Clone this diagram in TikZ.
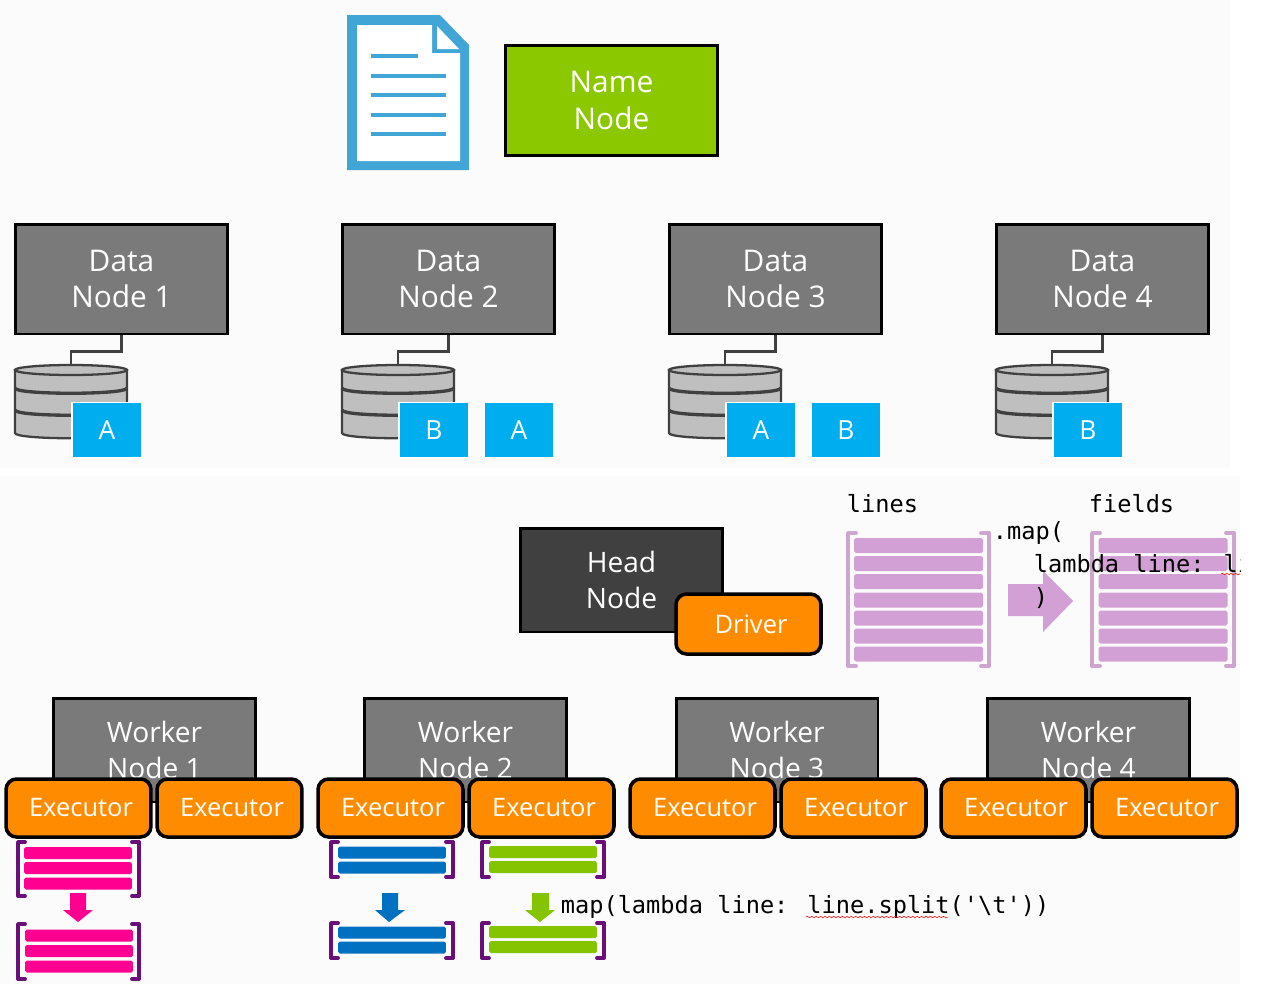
\documentclass[tikz,border=0pt]{standalone}
\usepackage{fontspec}
\setmainfont{Open Sans}
\newfontfamily\codefont{DejaVu Sans Mono}
\usepackage{xcolor}
\definecolor{sppanel}{RGB}{251,251,251}
\definecolor{spgreen}{RGB}{140,200,0}
\definecolor{spgray}{RGB}{122,122,122}
\definecolor{spdark}{RGB}{64,64,64}
\definecolor{sporange}{RGB}{255,140,0}
\definecolor{spcyan}{RGB}{0,174,239}
\definecolor{spdoc}{RGB}{65,165,213}
\definecolor{spdisk}{RGB}{191,191,191}
\definecolor{splilac}{RGB}{210,160,212}
\definecolor{spedge}{RGB}{205,165,207}
\definecolor{sppink}{RGB}{255,0,144}
\definecolor{spblue}{RGB}{0,112,192}
\definecolor{splime}{RGB}{133,196,0}
\definecolor{sppurple}{RGB}{106,15,122}
\usetikzlibrary{decorations.pathmorphing}

\begin{document}
\begin{tikzpicture}[
  x=0.02cm, y=-0.02cm,
  nbox/.style={rectangle, draw=black, line width=1.7pt, fill=#1, text=white, align=center,
               minimum width=4.24cm, minimum height=2.2cm,
               font=\fontsize{17}{21}\selectfont},
  wbox/.style={rectangle, draw=black, line width=1.7pt, fill=#1, text=white, align=center,
               minimum width=4.04cm, minimum height=2.08cm,
               font=\fontsize{16}{20}\selectfont},
  xbox/.style={rectangle, rounded corners=6pt, draw=black, line width=2pt, fill=sporange,
               text=white, minimum width=2.9cm, minimum height=1.16cm,
               execute at begin node={\hspace*{0.1cm}},
               font=\fontsize{14.5}{18}\selectfont},
  pbox/.style={rectangle, draw=white, line width=0.8pt, fill=spcyan, text=white,
               minimum width=1.4cm, minimum height=1.1cm, font=\fontsize{15}{18}\selectfont},
  lbar/.style={rectangle, rounded corners=1pt, fill=splilac, inner sep=0pt,
               minimum width=2.58cm, minimum height=0.3cm},
  tbar/.style={rectangle, rounded corners=1pt, fill=#1, inner sep=0pt,
               minimum width=2.16cm, minimum height=0.24cm},
  brk/.style={draw=#1, line width=2.2pt, line cap=round, line join=round},
  code/.style={anchor=base west, inner sep=0pt, text=black,
               font=\codefont\fontsize{13.45}{16}\selectfont},
  squiggle/.style={draw=red, line width=0.3pt, decorate,
                   decoration={snake, amplitude=0.4pt, segment length=2.5pt}},
  pics/dbstack/.style={code={
    \draw[draw=spdark, line width=1.3pt, fill=spdisk] (-56,-31) -- (-56,32)
      .. controls (-56,39) and (56,39) .. (56,32) -- (56,-31) -- cycle;
    \draw[draw=spdark, line width=1.3pt, fill=spdisk] (0,-31) ellipse [x radius=56, y radius=5];
    \draw[draw=spdark, line width=1.9pt] (-56,-13) .. controls (-56,-6) and (56,-6) .. (56,-13);
    \draw[draw=spdark, line width=1.9pt] (-56,9) .. controls (-56,16) and (56,16) .. (56,9);
    \coordinate (-top) at (0,-36);
  }}
]
\useasboundingbox (0,0) rectangle (1280,984);
\fill[sppanel] (0,0) rectangle (1230,468);
\fill[sppanel] (0,476) rectangle (1240,984);

% Document icon
\fill[spdoc] (347,15) -- (440,15) -- (469,45) -- (469,170) -- (347,170) -- cycle;
\fill[white] (357,25) -- (432,25) -- (432,53) -- (460,53) -- (460,161) -- (357,161) -- cycle;
\fill[white] (437,26) -- (459,49) -- (437,49) -- cycle;
\draw[spdoc, line width=2.4pt] (371,56) -- (418,56);
\draw[spdoc, line width=2.4pt] (371,76) -- (446,76);
\draw[spdoc, line width=2.4pt] (371,95) -- (446,95);
\draw[spdoc, line width=2.4pt] (371,115) -- (446,115);
\draw[spdoc, line width=2.4pt] (371,134) -- (446,134);

% Name node
\node[nbox=spgreen] (name) at (611.5,100.5) {Name\\Node};

% Data nodes
\node[nbox=spgray] (dn1) at (121.5,279) {Data\\Node 1};
\node[nbox=spgray] (dn2) at (448.5,279) {Data\\Node 2};
\node[nbox=spgray] (dn3) at (775.5,279) {Data\\Node 3};
\node[nbox=spgray] (dn4) at (1102.5,279) {Data\\Node 4};

% Disks
\pic (db1) at (71,401) {dbstack};
\pic (db2) at (398,401) {dbstack};
\pic (db3) at (725,401) {dbstack};
\pic (db4) at (1052,401) {dbstack};
\draw[spdark, line width=1.3pt] (dn1.south) -- ++(0,16) -| (db1-top);
\draw[spdark, line width=1.3pt] (dn2.south) -- ++(0,16) -| (db2-top);
\draw[spdark, line width=1.3pt] (dn3.south) -- ++(0,16) -| (db3-top);
\draw[spdark, line width=1.3pt] (dn4.south) -- ++(0,16) -| (db4-top);

% Blocks
\node[pbox] (b1a) at (107,430) {A};
\node[pbox] (b2b) at (434,430) {B};
\node[pbox] (b2a) at (519,430) {A};
\node[pbox] (b3a) at (761,430) {A};
\node[pbox] (b3b) at (846,430) {B};
\node[pbox] (b4b) at (1088,430) {B};

% Head node and driver
\node[wbox=spdark] (head) at (621.5,580) {Head\\Node};
\node[xbox, minimum height=1.2cm] (driver) at (748.5,624) {Driver};

% Lines
\node[code] (lines) at (846.5,512) {lines};
\foreach \i/\yy in {a/545.5,b/563.5,c/581.5,d/600,e/618,f/636,g/654}
  \node[lbar] (ln\i) at (918.5,\yy) {};
\draw[brk=spedge] (856,533) -- (848,533) -- (848,666) -- (856,666);
\draw[brk=spedge] (981,533) -- (989,533) -- (989,666) -- (981,666);

% Fields
\node[code] (fields) at (1088.5,512) {fields};
\foreach \i/\yy in {a/545.5,b/563.5,c/581.5,d/600,e/618,f/636,g/654}
  \node[lbar] (fd\i) at (1163,\yy) {};
\draw[brk=spedge] (1100,533) -- (1092,533) -- (1092,666) -- (1100,666);
\draw[brk=spedge] (1226,533) -- (1234,533) -- (1234,666) -- (1226,666);

% Big arrow and its code
\fill[splilac] (1008,584) -- (1043,584) -- (1043,571) -- (1073,601) -- (1043,632) -- (1043,616) -- (1008,616) -- cycle;
\begin{scope}
\clip (0,476) rectangle (1240,984);
\node[code] (mapa) at (992.5,539) {.map(};
\node[code] (mapb) at (1033.5,572) {lambda line: li};
\node[code] (mapc) at (1033.5,605) {)};
\draw[squiggle] (1221,574) -- (1240,574);
\end{scope}

% Workers
\node[wbox=spgray] (w1) at (154.5,750) {Worker\\Node 1};
\node[wbox=spgray] (w2) at (465.5,750) {Worker\\Node 2};
\node[wbox=spgray] (w3) at (777,750) {Worker\\Node 3};
\node[wbox=spgray] (w4) at (1088.5,750) {Worker\\Node 4};

% Executors
\node[xbox] (x1a) at (78.5,808) {Executor};
\node[xbox] (x1b) at (229.5,808) {Executor};
\node[xbox] (x2a) at (390.5,808) {Executor};
\node[xbox] (x2b) at (541.5,808) {Executor};
\node[xbox] (x3a) at (702.5,808) {Executor};
\node[xbox] (x3b) at (853.5,808) {Executor};
\node[xbox] (x4a) at (1013.5,808) {Executor};
\node[xbox] (x4b) at (1164.5,808) {Executor};

% Pink partition
\node[tbar=sppink] (pa1) at (78,853) {};
\node[tbar=sppink] (pa2) at (78,868) {};
\node[tbar=sppink] (pa3) at (78,883.5) {};
\draw[brk=sppurple] (25,842) -- (18,842) -- (18,896) -- (25,896);
\draw[brk=sppurple] (132,842) -- (139,842) -- (139,896) -- (132,896);
\fill[sppink] (70,893) -- (86,893) -- (86,910) -- (93,910) -- (78,922) -- (63,910) -- (70,910) -- cycle;
\node[tbar=sppink] (pb1) at (79,935.5) {};
\node[tbar=sppink] (pb2) at (79,951) {};
\node[tbar=sppink] (pb3) at (79,966.5) {};
\draw[brk=sppurple] (25,924) -- (18,924) -- (18,979) -- (25,979);
\draw[brk=sppurple] (132,924) -- (139,924) -- (139,979) -- (132,979);

% Blue partition
\node[tbar=spblue] (qa1) at (392,852.5) {};
\node[tbar=spblue] (qa2) at (392,867.5) {};
\draw[brk=sppurple] (338,842) -- (331,842) -- (331,877) -- (338,877);
\draw[brk=sppurple] (446,842) -- (453,842) -- (453,877) -- (446,877);
\fill[spblue] (382,893) -- (398,893) -- (398,910) -- (405,910) -- (389,922) -- (375,910) -- (382,910) -- cycle;
\node[tbar=spblue] (qb1) at (392,932.5) {};
\node[tbar=spblue] (qb2) at (392,947.5) {};
\draw[brk=sppurple] (338,923) -- (331,923) -- (331,958) -- (338,958);
\draw[brk=sppurple] (446,923) -- (453,923) -- (453,958) -- (446,958);

% Green partition
\node[tbar=splime] (ra1) at (543,852) {};
\node[tbar=splime] (ra2) at (543,867) {};
\draw[brk=sppurple] (489,842) -- (482,842) -- (482,877) -- (489,877);
\draw[brk=sppurple] (597,842) -- (604,842) -- (604,877) -- (597,877);
\fill[splime] (532,893) -- (549,893) -- (549,910) -- (555,910) -- (540,922) -- (525,910) -- (532,910) -- cycle;
\node[tbar=splime] (rb1) at (543,932) {};
\node[tbar=splime] (rb2) at (543,947) {};
\draw[brk=sppurple] (489,923) -- (482,923) -- (482,958) -- (489,958);
\draw[brk=sppurple] (597,923) -- (604,923) -- (604,958) -- (597,958);

% Map call
\node[code] (mapcall) at (560.5,913) {map(lambda line: line.split('\textbackslash t'))};
\draw[squiggle] (806,917) -- (948,917);
\end{tikzpicture}
\end{document}
